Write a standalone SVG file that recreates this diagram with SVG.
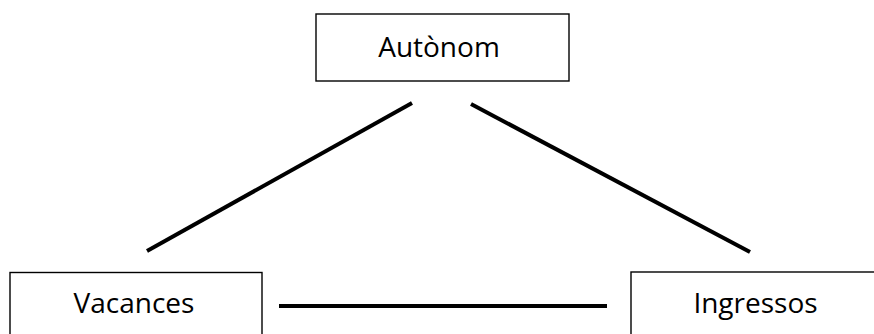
<svg xmlns="http://www.w3.org/2000/svg" width="874" height="334" viewBox="0 0 874 334">
<style>
.box{fill:#fff;stroke:#000;stroke-width:1.4}
.lbl{font-family:"Open Sans","Liberation Sans",sans-serif;font-size:28px;fill:#000;text-anchor:middle}
.edge{stroke:#000;stroke-width:4;stroke-linecap:butt;fill:none}
</style>
<rect width="874" height="334" fill="#fff"/>
<g id="connectors">
<line class="edge" x1="147" y1="251" x2="412" y2="103"/>
<line class="edge" x1="471" y1="104" x2="750" y2="252"/>
<line class="edge" x1="279" y1="306" x2="607" y2="306"/>
</g>
<g id="node-autonom">
<rect class="box" x="316" y="14" width="253" height="67"/>
<text class="lbl" x="439" y="57">Autònom</text>
</g>
<g id="node-vacances">
<rect class="box" x="10" y="272.5" width="252" height="70"/>
<text class="lbl" x="134" y="313">Vacances</text>
</g>
<g id="node-ingressos">
<rect class="box" x="631" y="272" width="250" height="70"/>
<text class="lbl" x="755.5" y="313">Ingressos</text>
</g>
</svg>
